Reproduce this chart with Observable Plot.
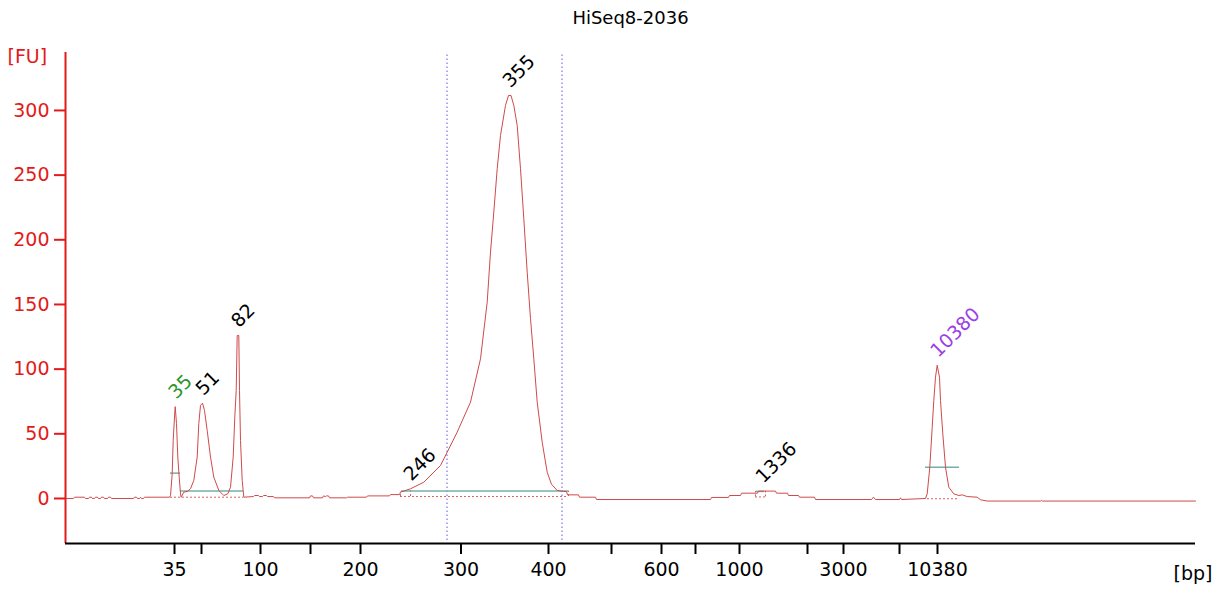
<!DOCTYPE html>
<html>
<head>
<meta charset="utf-8">
<script src="https://cdn.jsdelivr.net/npm/d3@7"></script>
<script src="https://cdn.jsdelivr.net/npm/@observablehq/plot@0.6"></script>
<style>
  html, body { margin: 0; padding: 0; background: #fff; }
  #chart { width: 1216px; height: 590px; }
</style>
</head>
<body>
<div id="chart"></div>
<script>
// Migration time (s) and fluorescence (FU) of the trace
const time = [20.0,20.8,20.9,21.9,22.0,22.3,22.4,22.6,22.7,22.9,23.0,23.2,23.3,23.5,23.6,23.8,23.9,24.2,24.3,24.5,24.6,26.8,26.9,27.1,27.2,27.4,27.5,27.6,27.8,27.9,30.4,
  30.5,30.67,30.77,30.9,30.97,31.1,31.23,31.37,31.5,31.57,31.83,32.2,32.5,32.83,33.17,33.33,33.5,33.7,33.9,34.17,34.5,34.83,35.33,35.83,36.23,36.5,36.77,36.93,37.07,37.17,37.33,37.4,37.5,37.67,37.83,
  38.8,38.9,39.3,39.4,39.7,39.8,40.1,40.2,40.8,40.9,44.4,44.5,44.7,44.8,45.7,45.8,46.0,46.1,46.3,46.4,48.1,48.2,50.1,50.2,52.4,52.5,53.4,
  53.5,54.5,55.83,57.5,58.17,59.17,60.5,61.5,62.17,62.5,62.83,63.17,63.5,64.0,64.3,64.55,64.83,65.17,65.5,65.83,66.17,66.5,66.83,67.17,67.67,68.17,68.6,69.17,69.83,70.1,70.2,71.3,71.4,73.0,73.1,
  84.5,84.6,86.3,86.4,87.5,87.6,89.2,89.3,91.0,91.1,92.2,92.3,93.3,93.4,94.9,95.0,100.6,100.8,101.0,103.4,103.5,103.6,
  106.0,106.17,106.43,106.67,106.83,107.0,107.17,107.4,107.5,107.73,108.0,108.33,108.83,109.33,109.67,110.17,111.17,111.5,112.17,117.5,117.6,117.7,133.0];
const fu = [0,0,1,1,0,0,1,1,0,0,1,1,0,0,1,1,0,0,1,1,0,0,1,1,0,0,1,0,0,1,1,
  2.3,19,45,63,71,58,32,16.5,3.6,1,4.9,5.5,7.5,14,32,58,72,73.7,68,52.6,32,16.5,6.2,2.3,3.6,8.7,32,63,83.5,126,126,83.5,44.8,14,1,
  1.5,2.3,2.3,1.5,1.5,2.3,2.3,1.5,1.5,0.5,0.5,2,2,0.5,0.5,2,1.5,2,2,0.5,0.5,1,1,2,2,3,3,
  4.9,7.5,12.6,25.5,35.8,51.3,74.5,108,151.8,190.5,221.4,254.9,280.7,303.9,311.6,311.6,303.9,288.4,254.9,216.3,175,139,108,74.5,43.5,20.3,11,6.2,5.4,5.4,2.8,2.8,1,1,-0.8,
  -0.8,0.8,0.8,2.3,2.3,4.1,4.1,5.7,5.7,4.1,4.1,2.3,2.3,1,1,-0.8,-0.8,1,-0.8,-0.8,0.5,-0.8,
  0,3.6,24.2,55,75.8,93.8,103,93.8,75.8,50,24.2,8.7,3.6,2.3,2.8,1.5,1,-1,-2,-2,-1.5,-2,-2];

// Peak annotations
const peakLabels = ["35", "51", "82", "246", "355", "1336", "10380"];
const peakTime   = [30.97, 33.7, 37.25, 54.5, 64.4, 89.7, 107.17];
const peakFU     = [71, 73.7, 126, 7.5, 311.6, 5.7, 103];
const peakKind   = ["lower", "peak", "peak", "peak", "peak", "peak", "upper"];

// Integration baselines (teal) and region borders
const levelFU    = [19.6, 5.7, 5.7, 5.5, 24.2];
const levelStart = [30.5, 31.5, 53.6, 89.1, 106.0];
const levelEnd   = [31.5, 37.8, 70.3, 89.9, 109.4];

const baseFU     = [1.0, 1.5, 1.2, -0.2];
const baseStart  = [30.5, 53.5, 89.0, 106.2];
const baseEnd    = [37.8, 70.3, 90.0, 109.3];

const edgeTime = [53.5, 54.5, 70.3, 89.0, 90.0];
const edgeLow  = [1.5, 1.5, 1.5, 1.2, 1.2];
const edgeHigh = [4.9, 7.0, 5.7, 5.5, 5.5];

const regionTime = [58.15, 69.65];

// Axes
const yTicks = [0, 50, 100, 150, 200, 250, 300];
const xTickTime  = [30.9, 33.6, 39.5, 44.5, 49.5, 59.55, 68.3, 74.6, 79.6, 83.0, 87.4, 94.2, 97.8, 103.4, 107.2];
const xTickLabel = ["35", "", "100", "", "200", "300", "400", "", "600", "", "1000", "", "3000", "", "10380"];

const RED = "#e31a1a";
const TRACE = "#cf4a4a";
const TEAL = "#78aea8";
const idx = d3.range(time.length);
const pk = d3.range(peakLabels.length);
const lv = d3.range(levelFU.length);
const bs = d3.range(baseFU.length);
const ed = d3.range(edgeTime.length);
const kindColor = {lower: "#2b952b", peak: "#000000", upper: "#9a3ee6"};

const chart = Plot.plot({
  width: 1216,
  height: 590,
  marginLeft: 65,
  marginRight: 21,
  marginTop: 52,
  marginBottom: 47,
  x: {domain: [20, 133], label: null},
  y: {domain: [-34.8, 344.8], label: null},
  style: {fontFamily: "DejaVu Sans, Verdana, sans-serif", fontSize: "19px", background: "white", overflow: "visible"},
  marks: [
    // region markers
    Plot.ruleX(regionTime, {x: d => d, y1: -32.5, y2: 344.8, stroke: "#5a5ae6", strokeWidth: 1, strokeDasharray: "1.5,2.5"}),
    // red dotted baselines
    Plot.ruleY(bs, {y: i => baseFU[i], x1: i => baseStart[i], x2: i => baseEnd[i], stroke: "#d96060", strokeWidth: 1, strokeDasharray: "2,2"}),
    Plot.ruleX(ed, {x: i => edgeTime[i], y1: i => edgeLow[i], y2: i => edgeHigh[i], stroke: "#d96060", strokeWidth: 1, strokeDasharray: "2,2"}),
    // teal integration levels
    Plot.ruleY(lv, {y: i => levelFU[i], x1: i => levelStart[i], x2: i => levelEnd[i], stroke: TEAL, strokeWidth: 1.5}),
    // trace
    Plot.line(idx, {x: i => time[i], y: i => fu[i], stroke: TRACE, strokeWidth: 1}),
    // peak labels
    Plot.text(pk, {x: i => peakTime[i], y: i => peakFU[i], text: i => peakLabels[i], fill: i => kindColor[peakKind[i]],
      rotate: -45, textAnchor: "start", lineAnchor: "bottom", dx: 1, dy: -7, fontSize: 19}),
    // axes
    Plot.axisY({ticks: yTicks, tickSize: 11, tickPadding: 5, stroke: RED, fill: RED, strokeWidth: 2, fontSize: 19, label: null}),
    Plot.axisX({ticks: xTickTime, tickFormat: d => xTickLabel[xTickTime.indexOf(d)], tickSize: 11, tickPadding: 8,
      stroke: "#000", fill: "#000", strokeWidth: 2, fontSize: 19, label: null}),
    Plot.ruleX([20], {stroke: RED, strokeWidth: 2}),
    Plot.ruleY([-34.8], {stroke: "#000", strokeWidth: 2}),
    // title and unit labels
    Plot.text(["HiSeq8-2036"], {frameAnchor: "top", dy: -29, lineAnchor: "bottom", fontSize: 18, fill: "#000"}),
    Plot.text(["[FU]"], {frameAnchor: "top-left", dx: -58, dy: 10, textAnchor: "start", lineAnchor: "bottom", fontSize: 19, fill: RED}),
    Plot.text(["[bp]"], {frameAnchor: "bottom-right", dx: 17, dy: 36, textAnchor: "end", lineAnchor: "bottom", fontSize: 19, fill: "#000"})
  ]
});
document.getElementById("chart").appendChild(chart);
</script>
</body>
</html>
